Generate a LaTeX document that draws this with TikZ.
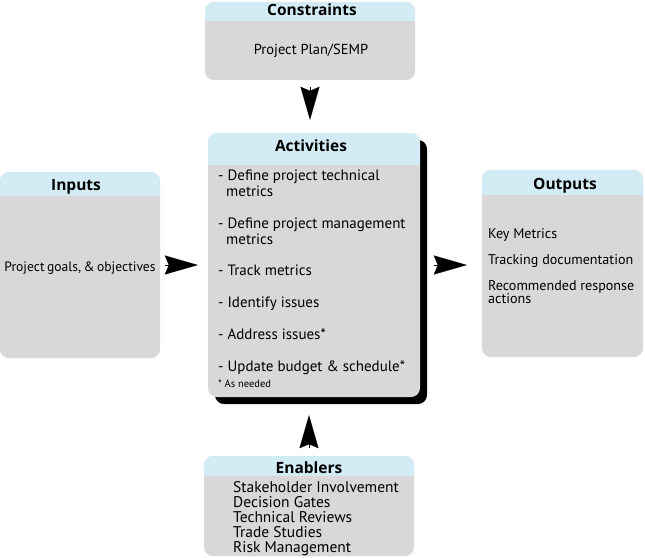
\documentclass[tikz,border=0pt]{standalone}
\usepackage{fontspec}
\setmainfont{PT Sans}
\newfontfamily\headfont{Open Sans}
\usetikzlibrary{arrows.meta}

\definecolor{hdrblue}{RGB}{210,235,244}
\definecolor{boxgray}{RGB}{217,215,216}

\tikzset{
  panel/.style={fill=boxgray, rounded corners=9pt, inner sep=0pt,
    path picture={\fill[hdrblue, sharp corners] (path picture bounding box.north west)
      rectangle ([yshift=-#1]path picture bounding box.north east);}},
  boxtitle/.style={font=\headfont\bfseries\fontsize{15.5}{16}\selectfont, anchor=base, inner sep=0pt},
  item/.style={font=\fontsize{14.5}{15}\selectfont, anchor=mid west, inner sep=0pt},
  flow/.style={line width=0.1pt, -{Stealth[length=33pt,width=19pt,inset=4pt]}}
}

\begin{document}
\begin{tikzpicture}[x=1pt,y=-1pt]
\useasboundingbox (0,0) rectangle (645,557);

% boxes
\node[panel=19pt, minimum width=210pt, minimum height=78pt] (con) at (310,41) {};
\node[fill=black, rounded corners=9pt, minimum width=212pt, minimum height=264pt] (act-sh) at (321,272) {};
\node[panel=32pt, minimum width=212pt, minimum height=264pt] (act) at (314,265) {};
\node[panel=24pt, minimum width=160pt, minimum height=186pt] (inp) at (80,265) {};
\node[panel=25pt, minimum width=161pt, minimum height=187pt] (out) at (562.5,263.5) {};
\node[panel=20pt, minimum width=210pt, minimum height=100pt] (enb) at (309,506) {};

% titles
\node[boxtitle] (con-t) at (312,15) {Constraints};
\node[boxtitle] (act-t) at (311,151) {Activities};
\node[boxtitle] (inp-t) at (76,190) {Inputs};
\node[boxtitle] (out-t) at (565,189) {Outputs};
\node[boxtitle] (enb-t) at (309,473) {Enablers};

% texts
\node[item, anchor=mid] (con-1) at (311,52) {Project Plan/SEMP};
\node[item, anchor=mid, font=\fontsize{13.6}{15}\selectfont] (inp-1) at (80,269)
  {\spaceskip=0.18em\relax Project goals, \& objectives};

\begin{scope}[item/.append style={font=\fontsize{15}{15}\selectfont}]
\node[item] (act-1) at (218,178) {- Define project technical};
\node[item] (act-1b) at (226,194) {metrics};
\node[item] (act-2) at (218,226) {- Define project management};
\node[item] (act-2b) at (226,242) {metrics};
\node[item] (act-3) at (218,273) {- Track metrics};
\node[item] (act-4) at (218,305) {- Identify issues};
\node[item] (act-5) at (218,337) {- Address issues*};
\node[item] (act-6) at (218,369) {- Update budget \& schedule*};
\end{scope}
\node[item, font=\fontsize{10.5}{12}\selectfont] (act-n) at (218,385) {* As needed};

\begin{scope}[item/.append style={font=\fontsize{14.1}{15}\selectfont}]
\node[item] (out-1) at (488,236) {Key Metrics};
\node[item] (out-2) at (488,262) {Tracking documentation};
\node[item] (out-3) at (488,288) {Recommended response};
\node[item] (out-3b) at (488,301) {actions};
\end{scope}

\foreach \txt [count=\i] in {Stakeholder Involvement, Decision Gates,
    Technical Reviews, Trade Studies, Risk Management}
  \node[item, font=\fontsize{15.5}{15}\selectfont] (enb-\i) at (233,475+15*\i) {\txt};

% arrows
\draw[flow, shorten <=7pt, shorten >=13pt] (con.south) -- (con.south |- act.north);
\draw[flow, shorten <=5pt, shorten >=10pt] (inp.east) -- (act.west);
\draw[flow, shorten <=14pt, shorten >=15pt] (act.east) -- (act.east -| out.west);
\draw[flow, shorten <=8pt, shorten >=18pt] (enb.north) -- (enb.north |- act.south);
\end{tikzpicture}
\end{document}
